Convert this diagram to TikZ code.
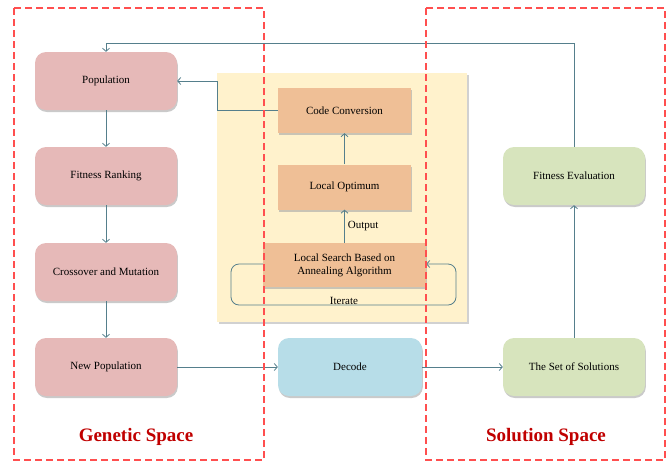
\documentclass[tikz,border=0pt]{standalone}
\usepackage{fontspec}
\setmainfont{Liberation Serif}
\usetikzlibrary{arrows.meta,shadows}
\definecolor{linkc}{HTML}{557F8C}
\definecolor{pinkc}{HTML}{E6B9B8}
\definecolor{orangec}{HTML}{EFBF96}
\definecolor{yellowc}{HTML}{FFF2CC}
\definecolor{bluec}{HTML}{B7DDE8}
\definecolor{greenc}{HTML}{D7E4BD}
\definecolor{dashc}{HTML}{FF4F4F}
\definecolor{titlec}{HTML}{C00000}
\tikzset{
  boxshadow/.style={drop shadow={shadow xshift=0.8pt,shadow yshift=-2pt,fill=black!35,opacity=0.6}},
  roundbox/.style={rounded corners=11pt,minimum width=142pt,minimum height=58pt,inner sep=0pt,
    font=\fontsize{11}{13}\selectfont,boxshadow,align=center},
  rectbox/.style={minimum height=45pt,inner sep=0pt,fill=orangec,boxshadow,
    font=\fontsize{11}{13}\selectfont,align=center},
  link/.style={draw=linkc,line width=0.8pt,-{Straight Barb[length=3pt,width=7pt]}},
  plainlink/.style={draw=linkc,line width=0.8pt},
  region/.style={draw=dashc,line width=1.6pt,dash pattern=on 7pt off 4pt},
  regiontitle/.style={font=\fontsize{19}{22}\selectfont\bfseries,text=titlec},
  lbl/.style={font=\fontsize{11}{13}\selectfont,inner sep=1pt}
}
\begin{document}
\begin{tikzpicture}[x=1pt,y=-1pt]
\useasboundingbox (0,0) rectangle (671,464);

% central block holding the annealing search
\fill[yellowc,drop shadow={shadow xshift=1.5pt,shadow yshift=-2pt,fill=black!30,opacity=0.6}]
  (217,73) rectangle (467,322);

% genetic algorithm side
\node[roundbox,fill=pinkc] (pop) at (106,81) {Population};
\node[roundbox,fill=pinkc] (rank) at (106,176) {Fitness Ranking};
\node[roundbox,fill=pinkc] (cross) at (106,272) {Crossover and Mutation};
\node[roundbox,fill=pinkc] (newpop) at (106,367) {New Population};

% annealing-based local search
\node[rectbox,minimum width=133pt] (code) at (344.5,110.5) {Code Conversion};
\node[rectbox,minimum width=133pt] (opt) at (344.5,187) {Local Optimum};
\node[rectbox,minimum width=163pt,minimum height=44pt] (search) at (344.5,265)
  {Local Search Based on\\Annealing Algorithm};

% decoding and evaluation
\node[roundbox,fill=bluec,minimum width=144pt] (decode) at (350,367) {Decode};
\node[roundbox,fill=greenc] (sols) at (574,367) {The Set of Solutions};
\node[roundbox,fill=greenc] (eval) at (574,176) {Fitness Evaluation};

% connectors
\draw[link] (pop) -- (rank);
\draw[link] (rank) -- (cross);
\draw[link] (cross) -- (newpop);
\draw[link] (newpop) -- (decode);
\draw[link] (decode) -- (sols);
\draw[link] (sols) -- (eval);
\draw[link] (eval.north) |- (106,43) -- (pop.north);
\draw[link] (code.west) -| (217,81) -- (pop.east);
\draw[link] (opt) -- (code);
\draw[link] (search.north -| opt.south) -- node[lbl,anchor=west,xshift=2pt] {Output} (opt.south);
\coordinate (itl) at (231,305);
\coordinate (itr) at (456,305);
\draw[link,rounded corners=8pt] (search.west |- 0,264) -| (itl) -- (itr) |- (search.east |- 0,264);
\node[lbl,anchor=south] (iterate) at (344,305.5) {Iterate};

% regions
\draw[region] (14,8) rectangle (264,460);
\draw[region] (426,8) rectangle (665,460);
\node[regiontitle] (gen) at (136,437) {Genetic Space};
\node[regiontitle] (sol) at (546,437) {Solution Space};
\end{tikzpicture}
\end{document}
